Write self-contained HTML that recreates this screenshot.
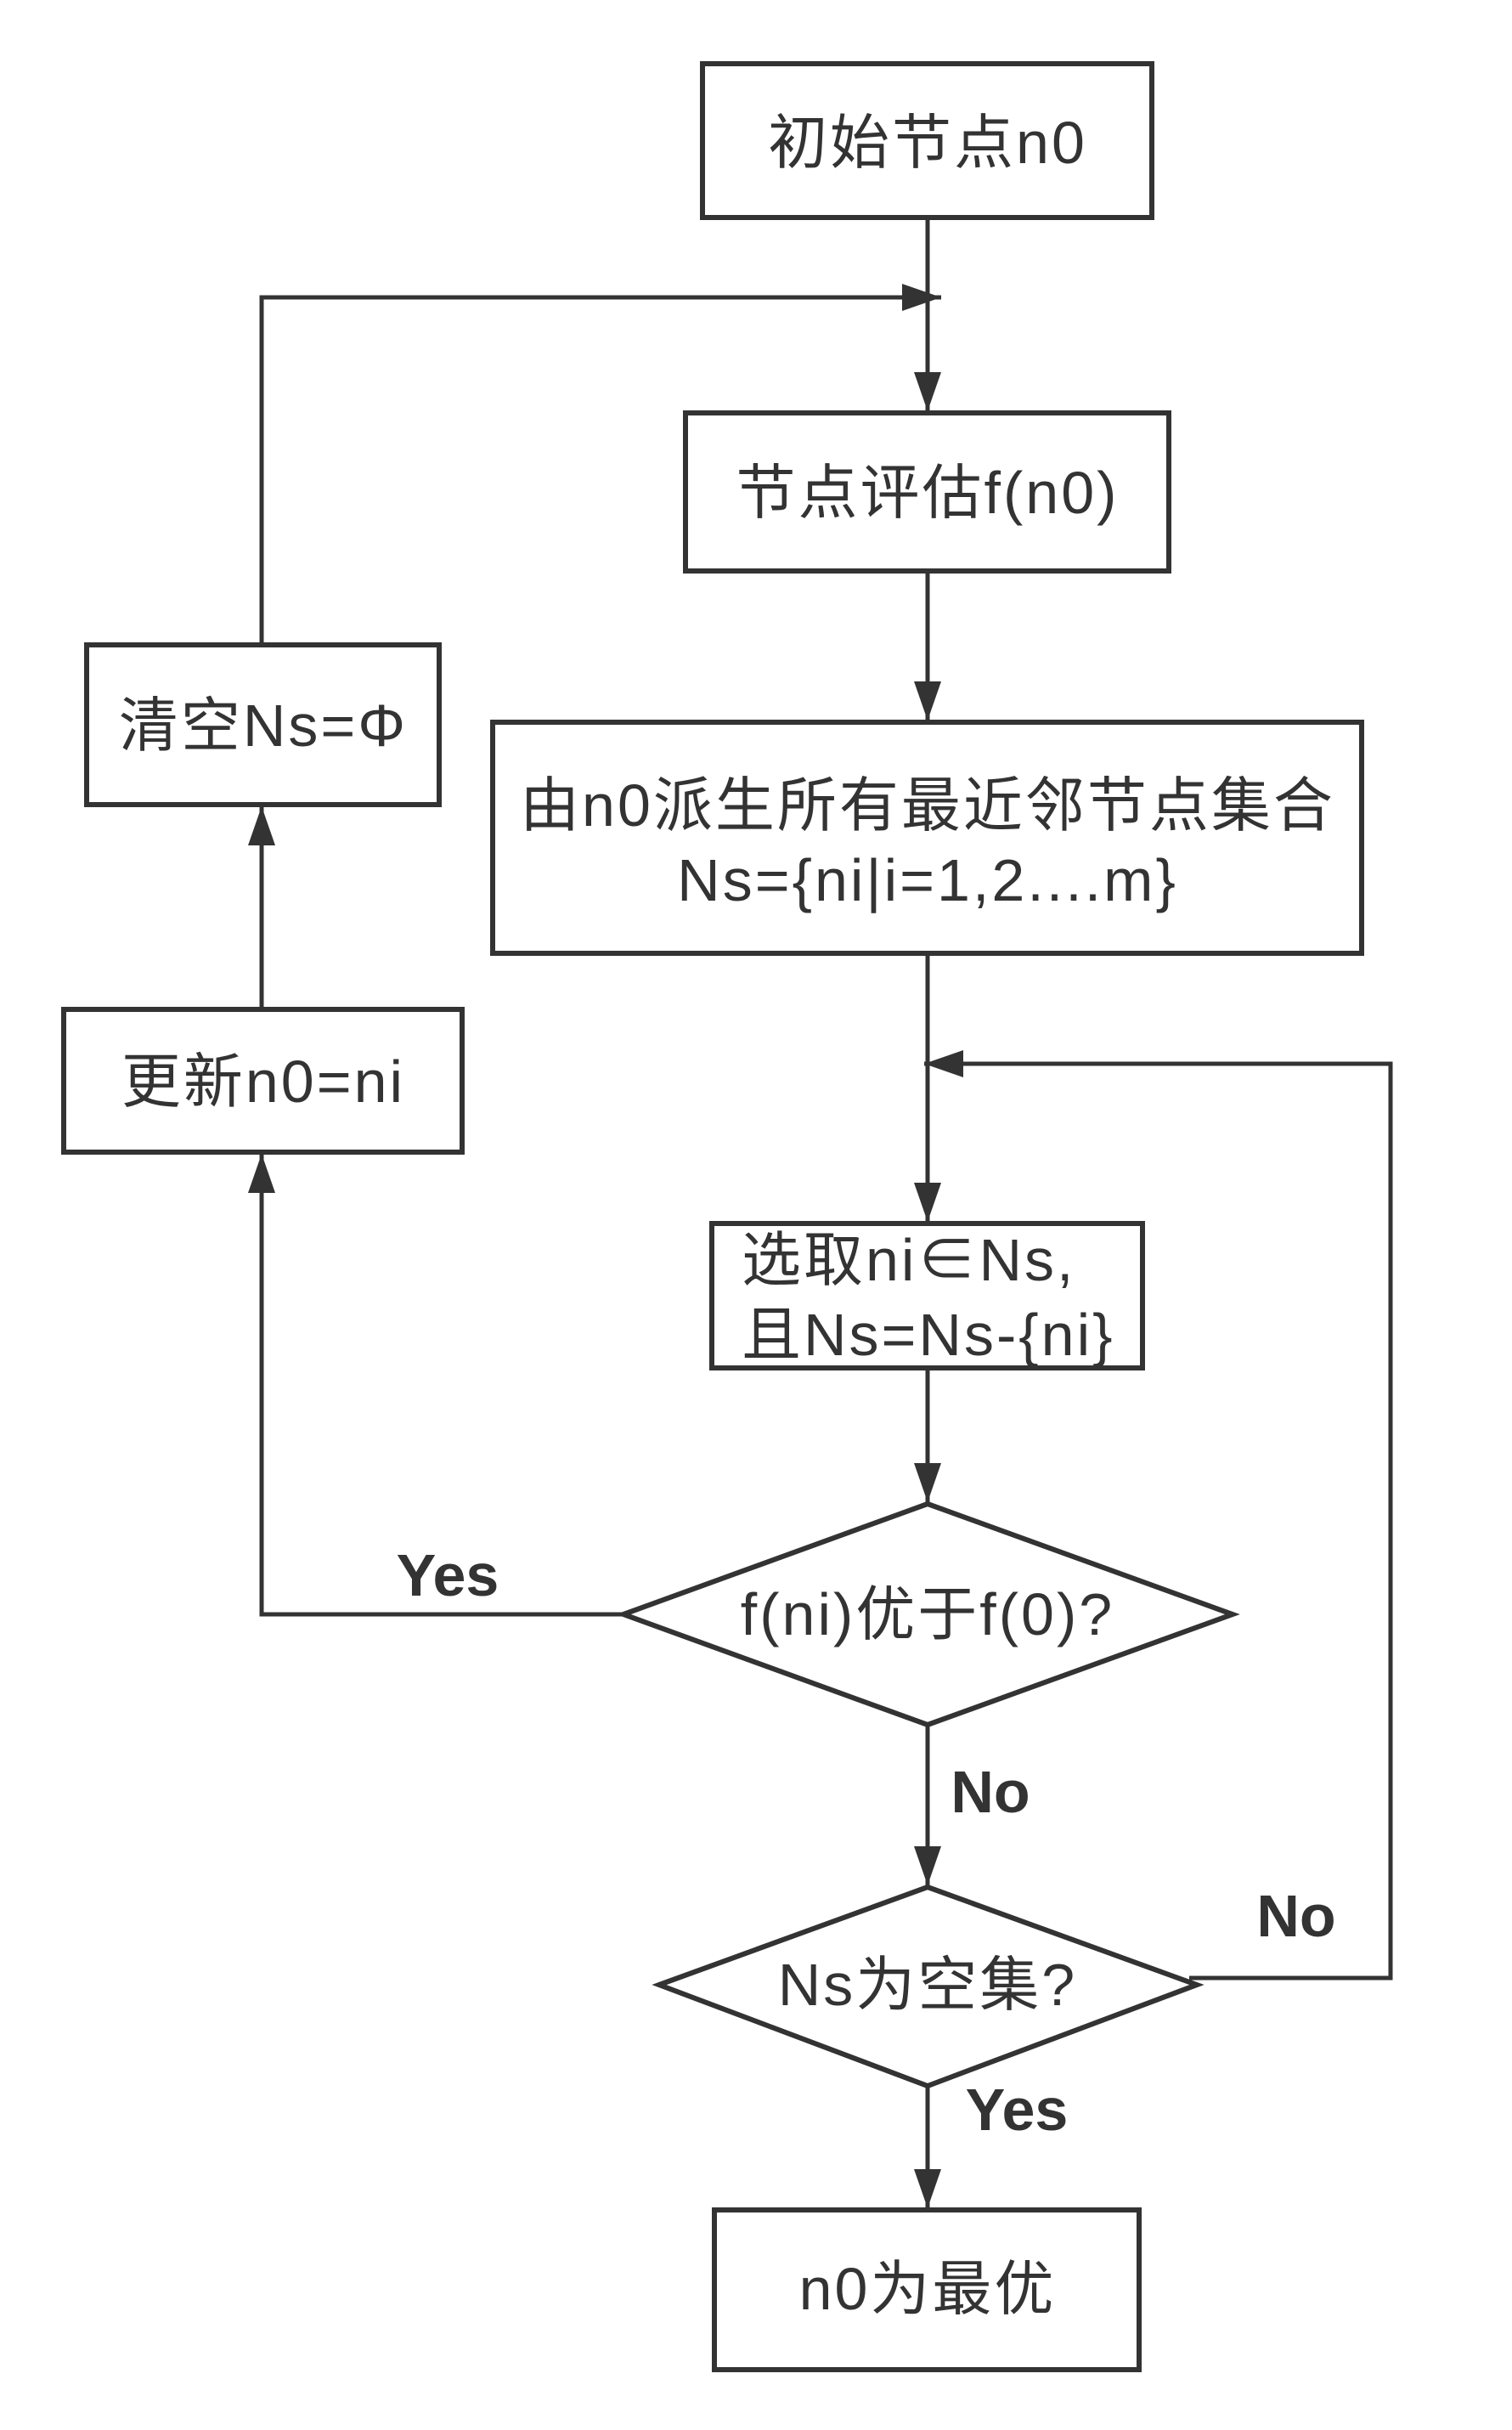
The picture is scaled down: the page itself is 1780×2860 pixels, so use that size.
<!DOCTYPE html>
<html><head><meta charset="utf-8"><style>
html,body{margin:0;padding:0;background:#fff;}
svg{display:block;}
.t{font-family:"Liberation Sans","Noto Sans CJK SC",sans-serif;fill:#333;font-size:70px;letter-spacing:3px;}
.l{font-family:"Liberation Sans",sans-serif;font-weight:bold;fill:#333;font-size:70px;}
</style></head><body>
<svg width="1780" height="2860" viewBox="0 0 1780 2860" xmlns="http://www.w3.org/2000/svg">
<defs>
<marker id="b" viewBox="0 0 46 32" refX="46" refY="16" markerWidth="46" markerHeight="32" orient="auto" markerUnits="userSpaceOnUse"><path d="M0,0 L46,16 L0,32 Z" fill="#333"/></marker></defs>
<g fill="none" stroke="#333" stroke-width="6">
<rect x="827" y="75" width="529" height="181"/>
<rect x="807" y="486" width="569" height="186"/>
<rect x="580" y="850" width="1023" height="272"/>
<rect x="102" y="759" width="415" height="188"/>
<rect x="75" y="1188" width="469" height="168"/>
<rect x="838" y="1440" width="507" height="170"/>
<polygon points="734,1900 1092,1770 1451,1900 1092,2030"/>
<polygon points="776,2336 1092,2221 1409,2336 1092,2455"/>
<rect x="841" y="2601" width="500" height="188"/>
</g>
<g fill="none" stroke="#333" stroke-width="5">
<line x1="1092" y1="256" x2="1092" y2="484" marker-end="url(#b)"/>
<polyline points="308,759 308,350 1108,350" marker-end="url(#b)"/>
<line x1="1092" y1="672" x2="1092" y2="848" marker-end="url(#b)"/>
<line x1="1092" y1="1122" x2="1092" y2="1438" marker-end="url(#b)"/>
<polyline points="1400,2328 1637,2328 1637,1252 1088,1252" marker-end="url(#b)"/>
<line x1="1092" y1="1610" x2="1092" y2="1768" marker-end="url(#b)"/>
<polyline points="734,1900 308,1900 308,1358" marker-end="url(#b)"/>
<line x1="308" y1="1188" x2="308" y2="949" marker-end="url(#b)"/>
<line x1="1092" y1="2030" x2="1092" y2="2219" marker-end="url(#b)"/>
<line x1="1092" y1="2455" x2="1092" y2="2599" marker-end="url(#b)"/>
</g>
<g class="t" text-anchor="middle">
<text x="1092" y="192">初始节点n0</text>
<text x="1092" y="604">节点评估f(n0)</text>
<text x="310" y="878">清空Ns=Φ</text>
<text x="310" y="1297">更新n0=ni</text>
<text x="1092" y="972">由n0派生所有最近邻节点集合</text>
<text x="1092" y="1060">Ns={ni|i=1,2....m}</text>
<text x="1092" y="1924">f(ni)优于f(0)?</text>
<text x="1092" y="2360">Ns为空集?</text>
<text x="1092" y="2718">n0为最优</text>
</g>
<g class="t">
<text x="873" y="1507">选取ni∈Ns,</text>
<text x="873" y="1595">且Ns=Ns-{ni}</text>
</g>
<g class="l" text-anchor="middle">
<text x="527" y="1878">Yes</text>
<text x="1166" y="2133">No</text>
<text x="1526" y="2279">No</text>
<text x="1197" y="2507">Yes</text>
</g>
</svg>
</body></html>
